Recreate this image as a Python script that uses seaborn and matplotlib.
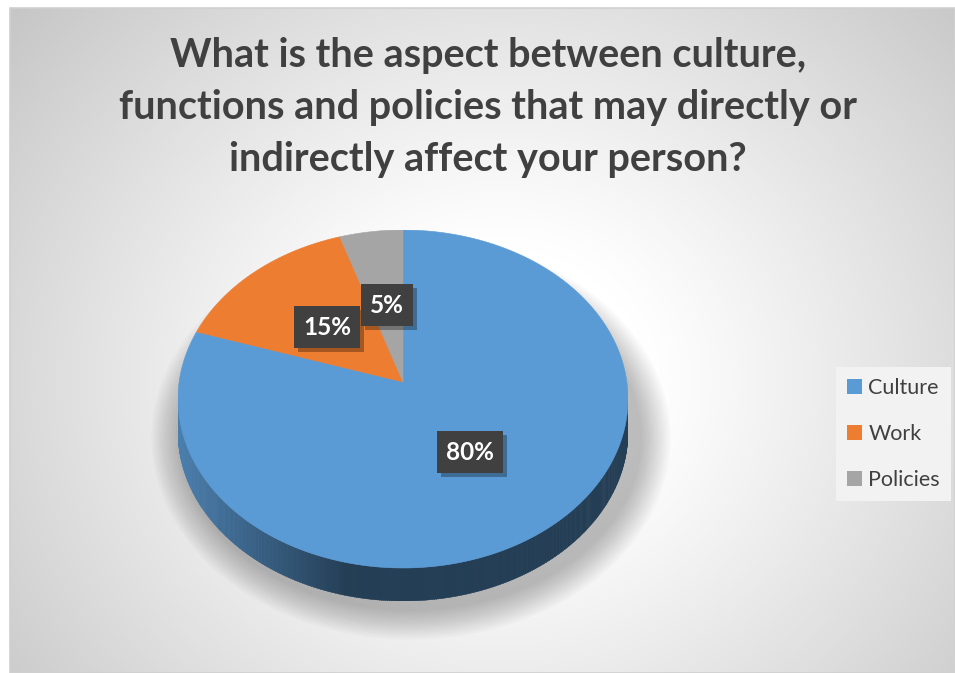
import numpy as np
import matplotlib
matplotlib.use("Agg")
import matplotlib.pyplot as plt
import matplotlib.patheffects as pe
from matplotlib.patches import Rectangle, Ellipse, Polygon
from matplotlib.collections import PolyCollection
import matplotlib.colors as mcolors
import seaborn as sns

# ---------------- data ----------------
categories = ["Culture", "Work", "Policies"]
values = [80, 15, 5]
label_texts = ["80%", "15%", "5%"]
slice_colors = ["#5B9BD5", "#ED7D31", "#A5A5A5"]
title_text = ("What is the aspect between culture,\n"
              "functions and policies that may directly or\n"
              "indirectly affect your person?")

# ---------------- style ----------------
sns.set_theme(style="white")
plt.rcParams["font.family"] = ["Lato", "DejaVu Sans"]
palette = sns.color_palette(slice_colors)

W, H = 955, 673
fig = plt.figure(figsize=(W / 100, H / 100), dpi=100)
fig.patch.set_facecolor("white")

# background axes in pixel coordinates
bg = fig.add_axes([0, 0, 1, 1])
bg.set_xlim(0, W)
bg.set_ylim(H, 0)
bg.axis("off")

# radial gradient chart area
x0, y0, x1, y1 = 10, 8, W, H
gx = np.linspace(x0, x1, 400)
gy = np.linspace(y0, y1, 300)
GX, GY = np.meshgrid(gx, gy)
cx, cy = 500, 380
dist = np.sqrt(((GX - cx) / 1.05) ** 2 + ((GY - cy) / 0.95) ** 2)
t = np.clip((dist - 140) / 500, 0, 1) ** 1.1
lo, hi = 1.0, 0.76
img = lo + (hi - lo) * t
rgb = np.dstack([img, img, img])
bg.imshow(rgb, extent=(x0, x1, y1, y0), aspect="auto", zorder=0, interpolation="bilinear")
bg.add_patch(Rectangle((x0, y0), x1 - x0, y1 - y0, fill=False, edgecolor="#d0d0d0", lw=1.2, zorder=1))

# ---------------- pie geometry (pixels) ----------------
pcx, pcy = 403, 399      # ellipse centre
rx, ry = 225, 169        # ellipse radii
depth = 33               # side thickness
d = depth / ry
vertex_py = 382          # where the slices meet (perspective)
beta = (pcy - vertex_py) / ry
gamma = 1.0 / np.sqrt(1 - beta ** 2)


def persp(x, v):
    """projective map keeping the unit circle, moving its centre to (0, beta)"""
    den = 1 + beta * v
    return x / (gamma * den), (v + beta) / den


def persp_inv(x, v):
    den = 1 - beta * v
    return x / (gamma * den), (v - beta) / den


# soft shadow under pie
for i in range(14):
    bg.add_patch(Ellipse((pcx + 8, pcy + depth + 6), 2 * (rx + 6 + i * 2.2), 2 * (ry + 4 + i * 2.2),
                         facecolor="black", edgecolor="none", alpha=0.018, zorder=2))

pax = fig.add_axes([(pcx - rx) / W, 1 - (pcy + ry + depth) / H, 2 * rx / W, (2 * ry + depth) / H])
pax.patch.set_alpha(0)

# side band (front half of the cylinder)
fracs = np.cumsum([0] + values) / float(sum(values))
N = 360
ang = np.linspace(np.pi, 2 * np.pi, N + 1)
polys, cols = [], []
for a0, a1 in zip(ang[:-1], ang[1:]):
    am = 0.5 * (a0 + a1)
    ox, ov = persp_inv(np.cos(am), np.sin(am))
    off = ((90 - np.degrees(np.arctan2(ov, ox))) % 360) / 360.0
    idx = int(np.searchsorted(fracs, off, side="right") - 1)
    idx = min(max(idx, 0), len(values) - 1)
    xm = np.cos(am)
    shade = 0.82 - 0.42 * np.clip((xm + 1) / 0.75, 0, 1)
    base = np.array(mcolors.to_rgb(palette[idx]))
    cols.append(tuple(base * shade))
    xa, xb = np.cos(a0), np.cos(a1 + 0.002)
    ya, yb = np.sin(a0), np.sin(a1 + 0.002)
    polys.append([(xa, ya), (xb, yb), (xb, yb - d), (xa, ya - d)])
pc = PolyCollection(polys, facecolors=cols, edgecolors=cols, linewidths=0.3, zorder=1)
pax.add_collection(pc)

wedges, _ = pax.pie(values, colors=palette, startangle=90, counterclock=False,
                    radius=1, center=(0, 0), wedgeprops=dict(linewidth=0, zorder=2))
# re-draw each wedge with a perspective projection of its outline
for w in wedges:
    th = np.radians(np.linspace(w.theta1, w.theta2, 240))
    xs = np.concatenate([[0.0], w.r * np.cos(th)])
    vs = np.concatenate([[0.0], w.r * np.sin(th)])
    px, pv = persp(xs, vs)
    pax.add_patch(Polygon(np.column_stack([px, pv]), closed=True, facecolor=w.get_facecolor(),
                          edgecolor=w.get_facecolor(), linewidth=0.4, zorder=2))
    w.remove()

pax.set_aspect("auto")
pax.set_xlim(-1, 1)
pax.set_ylim(-1 - d, 1)
pax.axis("off")

# data labels (pixel positions of the boxes)
label_px = [(470, 452), (327, 327), (387, 305)]
for txt, (lx, ly) in zip(label_texts, label_px):
    xd = (lx - pcx) / rx
    yd = (pcy - ly) / ry
    tt = pax.text(xd, yd, txt, ha="center", va="center", fontsize=17.5, fontweight="bold",
                  color="white", zorder=5,
                  bbox=dict(boxstyle="square,pad=0.38", facecolor="#404040", edgecolor="none"))
    tt.get_bbox_patch().set_path_effects([
        pe.SimplePatchShadow(offset=(3, -3), shadow_rgbFace="black", alpha=0.3),
        pe.Normal()])

# title
fig.text(488 / W, 1 - 108 / H, title_text, ha="center", va="center", fontsize=28.5,
         fontweight="bold", color="#404040", linespacing=1.5)

# legend
leg = fig.legend(handles=[Rectangle((0, 0), 1, 1, facecolor=c, edgecolor="none") for c in palette],
                 labels=categories, loc="center left", bbox_to_anchor=(836 / W, 1 - 434 / H),
                 frameon=True, facecolor="#f2f2f2", edgecolor="none", framealpha=1,
                 fontsize=15.5, labelspacing=1.2, handlelength=0.7, handleheight=0.7,
                 handletextpad=0.3, borderpad=0.5, borderaxespad=0, fancybox=False)
for t_ in leg.get_texts():
    t_.set_color("#404040")

fig.savefig("out.png", dpi=100)
